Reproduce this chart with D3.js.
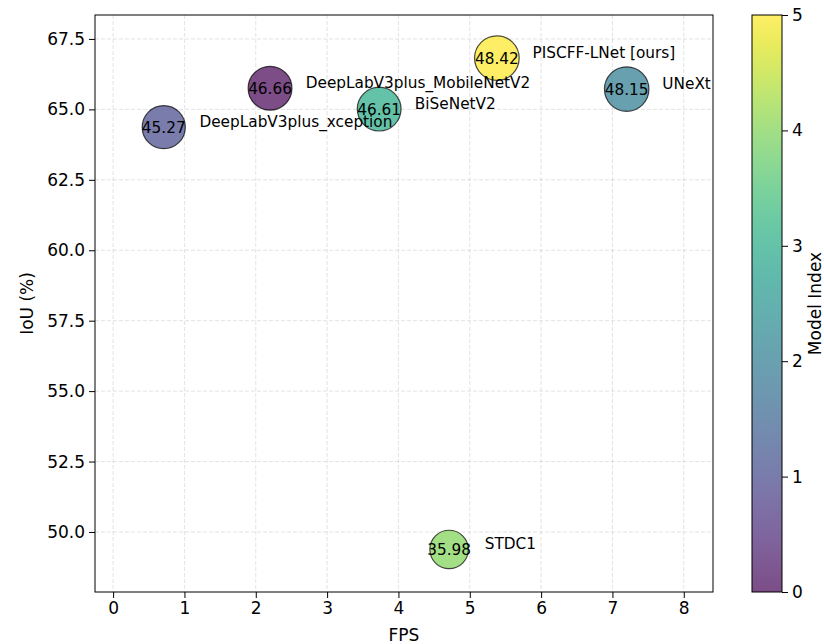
<!DOCTYPE html>
<html>
<head>
<meta charset="utf-8">
<script src="https://cdn.jsdelivr.net/npm/d3@7"></script>
<style>
  body { margin: 0; background: #fff; }
  svg { font-family: "DejaVu Sans", sans-serif; }
  .grid line { stroke: #b0b0b0; stroke-opacity: 0.35; stroke-dasharray: 4,2; }
</style>
</head>
<body>
<svg id="main-vis" width="824" height="644"></svg>
<script>
// model data, index order = colour index
const modelNames = ["DeepLabV3plus_MobileNetV2", "DeepLabV3plus_xception", "UNeXt", "BiSeNetV2", "STDC1", "PISCFF-LNet [ours]"];
const fpsValues = [2.2, 0.71, 7.2, 3.73, 4.71, 5.38];
const iouValues = [65.75, 64.37, 65.72, 65.01, 49.38, 66.82];
const bubbleValues = [46.66, 45.27, 48.15, 46.61, 35.98, 48.42];
const xTicks = [0, 1, 2, 3, 4, 5, 6, 7, 8];
const yTicks = [50.0, 52.5, 55.0, 57.5, 60.0, 62.5, 65.0, 67.5];
const cbarTicks = [0, 1, 2, 3, 4, 5];

const plot = { left: 95, right: 713, top: 15, bottom: 592 };
const cbar = { left: 752, right: 782, top: 15, bottom: 592 };
const baseFont = "17px";

const svg = d3.select("#main-vis");

const xScale = d3.scaleLinear().domain([-0.254, 8.41]).range([plot.left, plot.right]);
const yScale = d3.scaleLinear().domain([47.87, 68.35]).range([plot.bottom, plot.top]);
const rScale = d3.scaleSqrt().domain([0, 48.42]).range([0, 22.3]);
const colour = i => d3.interpolateViridis(i / 5);

// dashed grid
const grid = svg.append("g").attr("class", "grid");
grid.selectAll(".gx").data(xTicks).enter().append("line")
  .attr("x1", d => xScale(d)).attr("x2", d => xScale(d))
  .attr("y1", plot.top).attr("y2", plot.bottom);
grid.selectAll(".gy").data(yTicks).enter().append("line")
  .attr("x1", plot.left).attr("x2", plot.right)
  .attr("y1", d => yScale(d)).attr("y2", d => yScale(d));

// axes
const xAxis = svg.append("g")
  .attr("transform", `translate(0,${plot.bottom})`)
  .call(d3.axisBottom(xScale).tickValues(xTicks).tickFormat(d3.format("d")).tickSizeOuter(0).tickSize(6).tickPadding(4));
const yAxis = svg.append("g")
  .attr("transform", `translate(${plot.left},0)`)
  .call(d3.axisLeft(yScale).tickValues(yTicks).tickFormat(d3.format(".1f")).tickSizeOuter(0).tickSize(6).tickPadding(4));
[xAxis, yAxis].forEach(a => {
  a.select(".domain").remove();
  a.selectAll("text").attr("font-size", baseFont).attr("fill", "#000").attr("font-family", "DejaVu Sans");
  a.selectAll("line").attr("stroke", "#000").attr("stroke-width", 1);
});

svg.append("rect")
  .attr("x", plot.left).attr("y", plot.top)
  .attr("width", plot.right - plot.left).attr("height", plot.bottom - plot.top)
  .attr("fill", "none").attr("stroke", "#000").attr("stroke-width", 1);

const models = modelNames.map((name, i) => ({
  name, idx: i, fps: fpsValues[i], iou: iouValues[i], val: bubbleValues[i]
}));

// bubbles
const plotArea = svg.append("g");
plotArea.selectAll("circle").data(models).enter().append("circle")
  .attr("cx", d => xScale(d.fps))
  .attr("cy", d => yScale(d.iou))
  .attr("r", d => rScale(d.val))
  .attr("fill", d => colour(d.idx))
  .attr("fill-opacity", 0.7)
  .attr("stroke", "#000")
  .attr("stroke-opacity", 0.7)
  .attr("stroke-width", 1.2);

// numbers inside bubbles
plotArea.selectAll(".val").data(models).enter().append("text")
  .attr("x", d => xScale(d.fps))
  .attr("y", d => yScale(d.iou) + 5.5)
  .attr("text-anchor", "middle")
  .attr("font-size", "15.3px")
  .attr("fill", "#000")
  .text(d => d.val.toFixed(2));

// model name annotations (half a unit to the right, baseline at point)
plotArea.selectAll(".name").data(models).enter().append("text")
  .attr("x", d => xScale(d.fps + 0.5))
  .attr("y", d => yScale(d.iou))
  .attr("font-size", "15.3px")
  .attr("fill", "#000")
  .text(d => d.name);

// axis titles
svg.append("text")
  .attr("x", (plot.left + plot.right) / 2).attr("y", 641)
  .attr("text-anchor", "middle").attr("font-size", baseFont)
  .text("FPS");
svg.append("text")
  .attr("transform", `translate(33,${(plot.top + plot.bottom) / 2}) rotate(-90)`)
  .attr("text-anchor", "middle").attr("font-size", baseFont)
  .text("IoU (%)");

// colour bar
const defs = svg.append("defs");
const grad = defs.append("linearGradient").attr("id", "viridis")
  .attr("x1", 0).attr("y1", 1).attr("x2", 0).attr("y2", 0);
d3.range(0, 1.0001, 0.05).forEach(t => {
  grad.append("stop").attr("offset", t).attr("stop-color", d3.interpolateViridis(t));
});
const cScale = d3.scaleLinear().domain([0, 5]).range([cbar.bottom, cbar.top]);
svg.append("rect")
  .attr("x", cbar.left).attr("y", cbar.top)
  .attr("width", cbar.right - cbar.left).attr("height", cbar.bottom - cbar.top)
  .attr("fill", "url(#viridis)").attr("fill-opacity", 0.7);
svg.append("rect")
  .attr("x", cbar.left).attr("y", cbar.top)
  .attr("width", cbar.right - cbar.left).attr("height", cbar.bottom - cbar.top)
  .attr("fill", "none").attr("stroke", "#000").attr("stroke-width", 1);
const cAxis = svg.append("g")
  .attr("transform", `translate(${cbar.right},0)`)
  .call(d3.axisRight(cScale).tickValues(cbarTicks).tickFormat(d3.format("d")).tickSizeOuter(0).tickSize(6).tickPadding(4));
cAxis.select(".domain").remove();
cAxis.selectAll("text").attr("font-size", baseFont).attr("fill", "#000").attr("font-family", "DejaVu Sans");
cAxis.selectAll("line").attr("stroke", "#000").attr("stroke-width", 1);

svg.append("text")
  .attr("transform", `translate(821,${(cbar.top + cbar.bottom) / 2}) rotate(-90)`)
  .attr("text-anchor", "middle").attr("font-size", baseFont)
  .text("Model Index");
</script>
</body>
</html>
